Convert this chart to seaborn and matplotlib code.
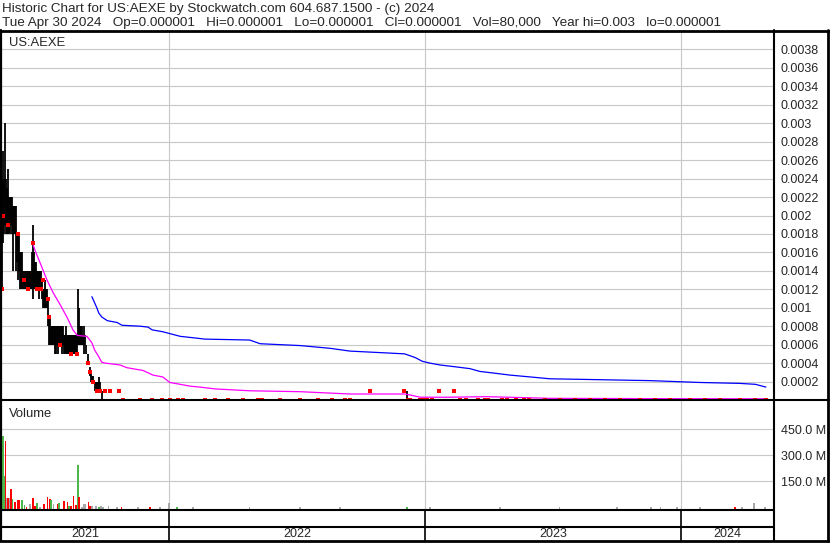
import numpy as np
import pandas as pd
import seaborn as sns
import matplotlib.pyplot as plt
from matplotlib.lines import Line2D

# all positions on the time axis are days counted from this date
start = pd.Timestamp('2021-05-01')

# daily high / low bars (the active 2021 period, plus one spike in 2022)
bar_day = [7, 8, 10, 11, 13, 14, 15, 17, 18, 20, 21, 23, 24, 25, 27, 28, 30, 31, 33, 34,
           35, 37, 38, 40, 41, 42, 44, 45, 47, 48, 50, 51, 52, 54, 55, 57, 58, 60, 61, 62,
           64, 65, 67, 68, 70, 71, 72, 74, 75, 77, 78, 80, 81, 82, 84, 85, 87, 88, 90, 91,
           92, 94, 95, 97, 98, 100, 101, 102, 104, 105, 107, 108, 110, 111, 112, 114, 115, 117, 118, 120,
           121, 122, 124, 125, 127, 129, 132, 134, 135, 137, 139, 141, 142, 144, 145, 147, 148, 149, 584]
bar_hi = [0.0024, 0.0027, 0.0024, 0.0030, 0.0024, 0.0023, 0.0025, 0.0022, 0.0022, 0.0022,
          0.0022, 0.0021, 0.0021, 0.0021, 0.0021, 0.0018, 0.0018, 0.0018, 0.0016, 0.0016,
          0.0016, 0.0014, 0.0014, 0.0014, 0.0014, 0.0014, 0.0014, 0.0014, 0.0014, 0.0014,
          0.0016, 0.0019, 0.0016, 0.0015, 0.0015, 0.0014, 0.0014, 0.0014, 0.0014, 0.0014,
          0.0013, 0.0012, 0.0012, 0.0013, 0.0012, 0.0012, 0.0011, 0.0009, 0.0009, 0.0008,
          0.0008, 0.0008, 0.0008, 0.0008, 0.0008, 0.0008, 0.0008, 0.0008, 0.0008, 0.0008,
          0.0008, 0.0008, 0.0007, 0.0007, 0.0008, 0.0007, 0.0007, 0.0007, 0.0007, 0.0007,
          0.0007, 0.0007, 0.0007, 0.0007, 0.0007, 0.0007, 0.0012, 0.0010, 0.0008, 0.0008,
          0.0008, 0.0007, 0.0008, 0.0007, 0.0006, 0.0005, 0.00036, 0.0003, 0.00026, 0.00026,
          0.0002, 0.0002, 0.0002, 0.0002, 0.00025, 0.0002, 0.00012, 0.0001, 0.0001]
bar_lo = [0.0012, 0.0017, 0.0018, 0.0019, 0.0018, 0.0018, 0.0018, 0.0018, 0.0018, 0.0019,
          0.0018, 0.0014, 0.0018, 0.0018, 0.0014, 0.0015, 0.0013, 0.0014, 0.0012, 0.0012,
          0.0012, 0.0012, 0.0012, 0.0012, 0.0012, 0.0012, 0.0012, 0.0012, 0.0012, 0.0012,
          0.0012, 0.0011, 0.0012, 0.0012, 0.0012, 0.0012, 0.0012, 0.0011, 0.0012, 0.0012,
          0.0011, 0.0010, 0.0010, 0.0010, 0.0010, 0.0010, 0.0008, 0.0006, 0.0006, 0.0006,
          0.0006, 0.0006, 0.0006, 0.0005, 0.0005, 0.0006, 0.0005, 0.0006, 0.0006, 0.0006,
          0.0005, 0.0006, 0.0005, 0.0005, 0.0005, 0.0005, 0.0005, 0.0005, 0.0005, 0.0005,
          0.0005, 0.0005, 0.0005, 0.0005, 0.0005, 0.0005, 0.0006, 0.0006, 0.0006, 0.0006,
          0.0006, 0.0006, 0.0005, 0.0006, 0.0005, 0.0004, 0.00026, 0.0002, 0.0002, 0.0002,
          0.0001, 0.0001, 0.0001, 0.0001, 0.0001, 0.0001, 0.00009, 0.0, 0.000001]

# closing ticks (red)
close_day = [7, 8, 15, 30, 38, 44, 51, 57, 62, 65, 72, 74, 90, 105, 114, 129, 132, 137, 142, 147,
             154, 161, 174, 532, 580, 630, 651,
             179, 204, 221, 235, 246, 258, 265, 296, 311, 329, 350, 372, 378, 403, 432, 457, 477,
             496, 503, 586, 589, 603, 609, 613, 620, 660, 668, 685, 695, 700, 720, 727, 740, 751,
             758, 781, 802, 824, 845, 867, 888, 917, 938, 959, 988, 1009, 1031, 1059, 1080, 1096]
close_px = [0.0012, 0.0020, 0.0019, 0.0018, 0.0013, 0.0012, 0.0017, 0.0012, 0.0012, 0.0013,
            0.0011, 0.0009, 0.0006, 0.0005, 0.0005, 0.0004, 0.0003, 0.0002, 0.0001, 0.0001,
            0.0001, 0.0001, 0.0001, 0.0001, 0.0001, 0.0001, 0.0001] + [0.000001] * 50

# moving averages
ma_short_day = [50, 54, 61, 71, 80, 90, 100, 108, 114, 128, 135, 139, 144, 149, 154, 175, 185,
                208, 222, 236, 246, 261, 275, 289, 311, 360, 432, 503, 581, 589, 603, 641, 698,
                755, 788, 931, 1096]
ma_short = [0.00171, 0.00162, 0.00149, 0.0013, 0.00116, 0.00103, 0.00089, 0.00076, 0.0007,
            0.00069, 0.00062, 0.00054, 0.00048, 0.00041, 0.0004, 0.00038, 0.00035, 0.00032,
            0.00027, 0.00025, 0.00019, 0.00017, 0.00015, 0.00014, 0.00012, 0.0001, 0.00009,
            0.000065, 0.000065, 0.000054, 0.00003, 0.00003, 0.000036, 0.000025, 0.000018,
            0.000015, 0.000013]
ma_long_day = [135, 142, 145, 149, 157, 171, 178, 204, 215, 221, 236, 246, 261, 285, 296, 360,
               375, 432, 475, 503, 556, 581, 596, 606, 617, 631, 653, 674, 688, 710, 731, 760,
               788, 860, 931, 1002, 1059, 1081, 1096]
ma_long = [0.00112, 0.001, 0.00094, 0.0009, 0.00086, 0.00084, 0.00081, 0.0008, 0.00079, 0.00076,
           0.00074, 0.00072, 0.00069, 0.00067, 0.00066, 0.00065, 0.00061, 0.00059, 0.00056,
           0.00053, 0.00051, 0.0005, 0.00046, 0.00042, 0.0004, 0.00038, 0.00036, 0.00034,
           0.00031, 0.00029, 0.00027, 0.00025, 0.00023, 0.00022, 0.00021, 0.00019, 0.00018,
           0.00017, 0.00014]

# volume in millions of shares, u = up day, d = down day, f = unchanged
vol_day = [8, 9.5, 11.5, 13, 15, 18, 20, 22, 25, 30, 32, 35, 39, 42, 47, 50, 51, 54, 57, 61,
           67, 72, 75, 77, 80, 86, 88, 95, 100, 102, 105, 109, 112, 115, 117, 121, 124, 126, 130, 132,
           135, 141, 145, 148, 151, 159, 171, 177, 201, 218, 232, 245, 256, 279, 360, 432, 489, 584,
           617, 717, 802, 884, 932, 946, 969, 1002, 1052, 1062, 1079, 1095]
vol_m = [411, 181, 383, 52, 56, 56, 104, 46, 31, 40, 40, 40, 12, 4, 17, 40, 52, 8, 23, 4,
         17, 58, 46, 40, 17, 19, 27, 37, 31, 10, 8, 64, 12, 242, 60, 4, 19, 19, 33, 6,
         10, 10, 4, 10, 3, 6, 2, 3, 3, 3, 3, 23, 3, 3, 3, 3, 3, 4,
         3, 3, 3, 3, 3, 3, 3, 3, 4, 3, 27, 5]
vol_dir = ['u', 'u', 'd', 'f', 'd', 'f', 'd', 'u', 'd', 'd', 'd', 'u', 'u', 'd', 'f', 'u', 'd', 'd', 'u', 'f',
           'd', 'd', 'd', 'u', 'f', 'd', 'u', 'd', 'd', 'u', 'd', 'd', 'd', 'u', 'd', 'f', 'f', 'f', 'd', 'd',
           'f', 'f', 'u', 'f', 'f', 'f', 'f', 'd', 'f', 'd', 'f', 'f', 'u', 'f', 'f', 'f', 'f', 'u',
           'f', 'f', 'f', 'f', 'f', 'f', 'f', 'f', 'd', 'f', 'f', 'f']

price_ticks = [0.0002, 0.0004, 0.0006, 0.0008, 0.001, 0.0012, 0.0014, 0.0016, 0.0018, 0.002,
               0.0022, 0.0024, 0.0026, 0.0028, 0.003, 0.0032, 0.0034, 0.0036, 0.0038]
vol_ticks = [150, 300, 450]
years = ['2021', '2022', '2023', '2024']
year_starts = ['2022-01-01', '2023-01-01', '2024-01-01']

title1 = 'Historic Chart for US:AEXE by Stockwatch.com 604.687.1500 - (c) 2024'
title2 = ('Tue Apr 30 2024   Op=0.000001   Hi=0.000001   Lo=0.000001   Cl=0.000001   '
          'Vol=80,000   Year hi=0.003   lo=0.000001')


def to_date(days):
    return start + pd.to_timedelta(np.asarray(days, dtype=float), unit='D')


sns.set_style('white')
plt.rcParams['font.family'] = ['Liberation Sans', 'DejaVu Sans']

W, H = 830, 543
fig = plt.figure(figsize=(W / 100, H / 100), dpi=100)


def box(x0, y0, x1, y1):
    return [x0 / W, 1 - y1 / H, (x1 - x0) / W, (y1 - y0) / H]


def hline(y, x0, x1, lw=1.5):
    fig.add_artist(Line2D([x0 / W, x1 / W], [1 - y / H] * 2, color='black', lw=lw, zorder=10))


def vline(x, y0, y1, lw=1.5):
    fig.add_artist(Line2D([x / W] * 2, [1 - y0 / H, 1 - y1 / H], color='black', lw=lw, zorder=10))


xmin, xmax = to_date([5.4, 1107.6])
bounds = pd.to_datetime(year_starts)
grid_kw = dict(color='#c8c8c8', lw=0.8)

# price panel
ax = fig.add_axes(box(1, 31, 774, 400))
ax.vlines(to_date(bar_day), bar_lo, bar_hi, color='black', lw=1.3, zorder=3)
sns.lineplot(x=to_date(ma_short_day), y=ma_short, color='#ff00ff', lw=0.9, ax=ax, zorder=4)
sns.lineplot(x=to_date(ma_long_day), y=ma_long, color='#0000ff', lw=0.9, ax=ax, zorder=4)
ax.scatter(to_date(close_day), close_px, marker='s', s=5, color='#ff0000', lw=0,
           zorder=5, clip_on=False)
ax.set_xlim(xmin, xmax)
ax.set_ylim(0, 0.004)
ax.set_yticks(price_ticks)
ax.set_yticklabels([f'{v:.4f}'.rstrip('0') for v in price_ticks])
ax.yaxis.tick_right()
ax.set_xticks(bounds)
ax.set_xticklabels([])
ax.tick_params(length=0, labelsize=9, pad=5)
ax.grid(True, **grid_kw)
ax.set_xlabel('')
ax.set_ylabel('')
for s in ax.spines.values():
    s.set_visible(False)
ax.text(8 / 773, 1 - 15 / 369, 'US:AEXE', transform=ax.transAxes, fontsize=9.4, va='baseline')

# volume panel
axv = fig.add_axes(box(1, 400, 774, 510))
colors = {'u': '#4cb84c', 'd': '#ff0000', 'f': '#a8a8a8'}
floor = -15
axv.bar(to_date(vol_day), np.array(vol_m) - floor, bottom=floor, width=2.2,
        color=[colors[c] for c in vol_dir], lw=0, zorder=3)
axv.set_xlim(xmin, xmax)
axv.set_ylim(floor, 619)
axv.set_yticks(vol_ticks)
axv.set_yticklabels([f'{v:.1f} M' for v in vol_ticks])
axv.yaxis.tick_right()
axv.set_xticks(bounds)
axv.set_xticklabels([])
axv.tick_params(length=0, labelsize=9, pad=5)
axv.grid(True, **grid_kw)
for s in axv.spines.values():
    s.set_visible(False)
axv.text(8 / 773, 1 - 17 / 110, 'Volume', transform=axv.transAxes, fontsize=9.4, va='baseline')

# date strip
axd = fig.add_axes(box(1, 510, 774, 541))
axd.set_xlim(xmin, xmax)
axd.set_ylim(0, 1)
axd.axis('off')
edges = [xmin] + list(bounds) + [xmax]
for i, yr in enumerate(years):
    mid = edges[i] + (edges[i + 1] - edges[i]) / 2
    axd.text(mid, 7 / 31, yr, ha='center', va='center', fontsize=9)

# frame lines
hline(30.5, 0, 829, lw=2)
hline(541, 0, 829, lw=2)
hline(400, 0, 829)
hline(510, 0, 774)
hline(527, 0, 774)
vline(0.5, 30, 541, lw=1.6)
vline(828.3, 30, 541, lw=2)
vline(774, 30, 541)
span = (xmax - xmin).total_seconds()
for b in bounds:
    xp = 1 + 773 * (b - xmin).total_seconds() / span
    vline(xp, 510, 541, lw=1.2)

fig.text(2 / W, 1 - 12 / H, title1, fontsize=9.7, va='baseline')
fig.text(2 / W, 1 - 26 / H, title2, fontsize=9.7, va='baseline')

fig.savefig('out.png', dpi=100)
